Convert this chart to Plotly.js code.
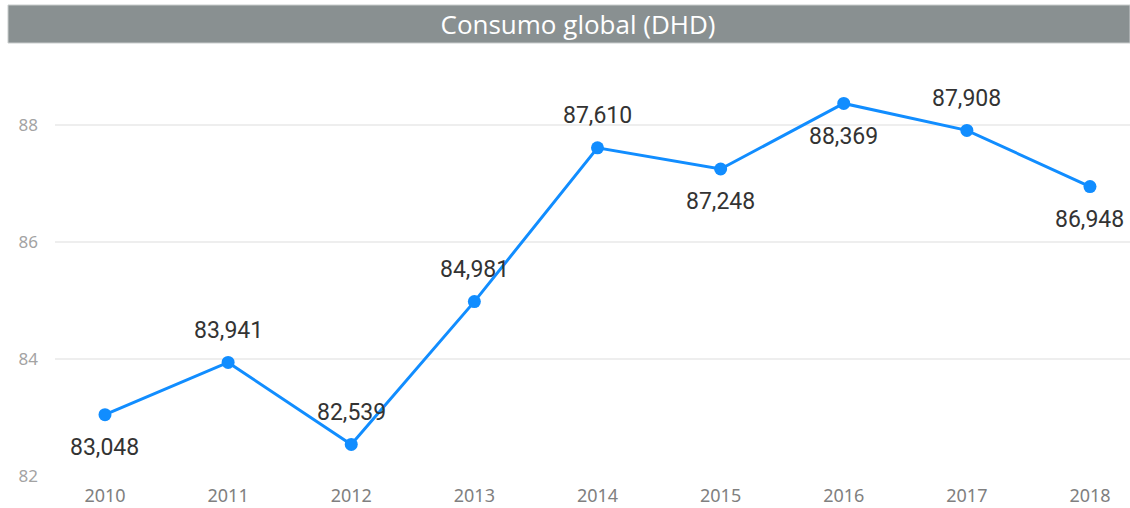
<!DOCTYPE html>
<html>
<head>
<meta charset="utf-8">
<script src="https://cdn.plot.ly/plotly-3.0.1.min.js"></script>
<style>
html,body{margin:0;padding:0;background:#fff;}
#chart{width:1130px;height:508px;}
</style>
</head>
<body>
<div id="chart"></div>
<script>
const years = [2010, 2011, 2012, 2013, 2014, 2015, 2016, 2017, 2018];
const consumo = [83.048, 83.941, 82.539, 84.981, 87.610, 87.248, 88.369, 87.908, 86.948];
const labelSide = ['below', 'above', 'above', 'above', 'above', 'below', 'below', 'above', 'below'];
const yTicks = [82, 84, 86, 88];

const fmt = v => v.toFixed(3).replace('.', ',');

const trace = {
  x: years,
  y: consumo,
  type: 'scatter',
  mode: 'lines+markers',
  line: {color: '#118DFF', width: 3},
  marker: {color: '#118DFF', size: 13},
  hoverinfo: 'skip',
  cliponaxis: false
};

const annotations = years.map((yr, i) => ({
  x: yr, y: consumo[i], xref: 'x', yref: 'y',
  text: fmt(consumo[i]),
  showarrow: false,
  yshift: labelSide[i] === 'above' ? 32 : -33,
  font: {family: 'Roboto, "DejaVu Sans", sans-serif', size: 23, color: '#333333'}
}));

const plotTop = 60, plotBottom = 476, plotH = plotBottom - plotTop;

const layout = {
  width: 1130, height: 508,
  margin: {l: 55, r: 0, t: plotTop, b: 508 - plotBottom, pad: 0},
  paper_bgcolor: '#ffffff',
  plot_bgcolor: '#ffffff',
  separators: ',.',
  showlegend: false,
  title: {
    text: 'Consumo global (DHD)',
    x: (578 - 55) / 1075, xanchor: 'center', xref: 'paper',
    y: 1 - 25 / 508, yanchor: 'middle', yref: 'container',
    font: {family: '"Open Sans", "Noto Sans", sans-serif', size: 26, color: '#ffffff'}
  },
  xaxis: {
    range: [2009.594, 2018.325],
    tickvals: years,
    ticktext: years.map(String),
    showgrid: false, zeroline: false, showline: false,
    ticks: '', ticklabelstandoff: 7,
    tickfont: {family: '"Noto Sans", "Open Sans", sans-serif', size: 18, color: '#808080'},
    fixedrange: true
  },
  yaxis: {
    range: [82, 82 + plotH / 58.5],
    tickvals: yTicks,
    ticktext: yTicks.map(String),
    showgrid: true, gridcolor: '#eeeeee', gridwidth: 1.5,
    zeroline: false, showline: false,
    ticks: '', ticklabelstandoff: 16,
    tickfont: {family: '"Noto Sans", "Open Sans", sans-serif', size: 17, color: '#a3a3a3'},
    fixedrange: true
  },
  shapes: [{
    type: 'rect', xref: 'paper', yref: 'paper', layer: 'below',
    x0: (8 - 55) / 1075, x1: 1,
    y0: (plotBottom - 43) / plotH, y1: (plotBottom - 5) / plotH,
    fillcolor: '#899091', line: {color: '#c9cdcd', width: 1}
  }],
  annotations: annotations
};

Plotly.newPlot('chart', [trace], layout, {displayModeBar: false, staticPlot: true});
</script>
</body>
</html>
